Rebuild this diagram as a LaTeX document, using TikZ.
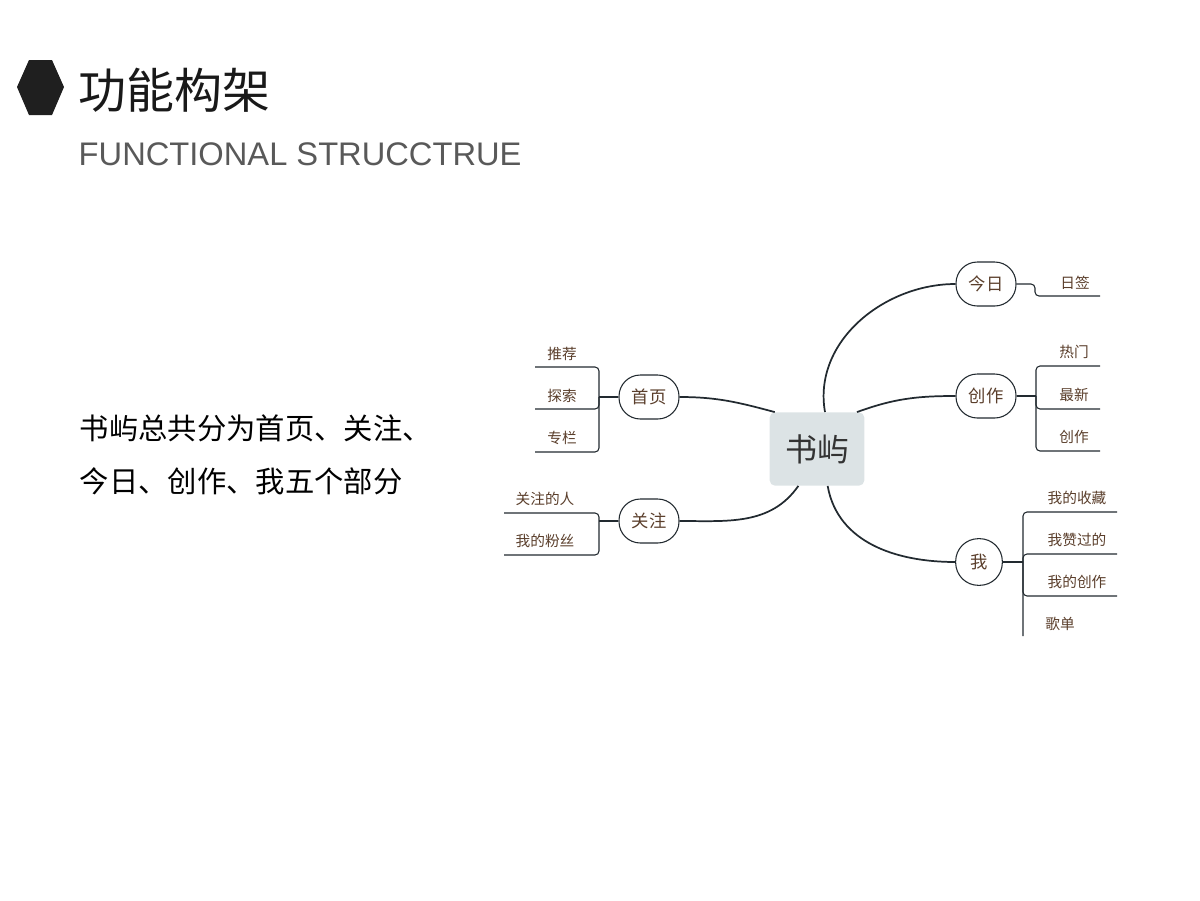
\documentclass[tikz,border=0pt]{standalone}
\usepackage{fontspec}
\setmainfont{Noto Sans CJK SC}
\newfontfamily\enfont{Liberation Sans}
\usepackage{xcolor}
\usepackage{tikz}
\usetikzlibrary{shapes.geometric}
\usetikzlibrary{shapes}
\definecolor{linec}{HTML}{222A30}
\definecolor{leafc}{HTML}{5A3E2B}
\definecolor{hubc}{HTML}{DCE3E5}
\tikzset{
  branch/.style = {draw = linec, thick, rounded corners = 16pt, minimum width = 45pt, minimum height = 33pt, inner sep = 1pt, text = leafc, font = \fontsize{13}{13}\selectfont},
  leaf/.style = {text = leafc, font = \fontsize{11}{11}\selectfont, inner sep = 0pt},
  link/.style = {draw = linec, line width = 1.3pt},
  rail/.style = {draw = linec, line width = 0.8pt, rounded corners = 3pt}
}
\begin{document}
\begin{tikzpicture}[x = 0.75pt, y = -0.75pt]
        \useasboundingbox (0, 0) rectangle (1200, 900);

        % heading
        \fill[black!88] (17, 87) -- (29, 60) -- (52, 60) -- (64, 87) -- (52, 115) -- (29, 115) -- cycle;
        \node[anchor = west, font = \fontsize{36}{36}\selectfont, text = black!90] (title) at (74, 90) {功能构架};
        \node[anchor = west, font = \enfont\fontsize{24.5}{24.5}\selectfont, text = black!65] (sub) at (74, 154) {FUNCTIONAL STRUCCTRUE};

        % description
        \node[anchor = west, font = \fontsize{22}{22}\selectfont] (d1) at (75, 428) {书屿总共分为首页、关注、};
        \node[anchor = west, font = \fontsize{22}{22}\selectfont] (d2) at (75, 481) {今日、创作、我五个部分};

        % map
        \node[fill = hubc, rounded corners = 4pt, minimum width = 71pt, minimum height = 55pt, text = black!80, font = \fontsize{24}{24}\selectfont] (hub) at (817, 449) {书屿};
        \node[branch] (home) at (649, 397) {首页};
        \node[branch] (follow) at (649, 521) {关注};
        \node[branch] (today) at (986, 284) {今日};
        \node[branch] (create) at (986, 396) {创作};
        \node[branch, minimum width = 35pt, minimum height = 35pt, rounded corners = 17pt] (me) at (979, 562) {我};

        \draw[link] ([xshift = 4pt]hub.north west) to[out = 165, in = 0] (home.east);
        \draw[link] ([xshift = -14pt]hub.south) to[out = -125, in = 0] (follow.east);
        \draw[link] ([xshift = 6pt]hub.north) to[out = 100, in = 180] (today.west);
        \draw[link] ([xshift = 30pt]hub.north) to[out = 20, in = 180] (create.west);
        \draw[link] ([xshift = 8pt]hub.south) to[out = -80, in = 180] (me.west);

        % home
        \draw[rail] (home.west) -- (599, 397);
        \draw[rail] (535, 367) -- (599, 367) -- (599, 452) -- (535, 452);
        \draw[rail] (535, 409) -- (599, 409) -- (599, 397);
        \node[leaf] (h1) at (562, 354) {推荐};
        \node[leaf] (h2) at (562, 396) {探索};
        \node[leaf] (h3) at (562, 438) {专栏};

        % follow
        \draw[rail] (follow.west) -- (599, 521);
        \draw[rail] (504, 513) -- (599, 513) -- (599, 555) -- (504, 555);
        \node[leaf] (f1) at (545, 499) {关注的人};
        \node[leaf] (f2) at (545, 541) {我的粉丝};

        % today
        \draw[rail] (today.east) -- (1035, 284) -- (1035, 296) -- (1100, 296);
        \node[leaf] (t1) at (1075, 283) {日签};

        % create
        \draw[rail] (create.east) -- (1036, 396);
        \draw[rail] (1100, 366) -- (1036, 366) -- (1036, 451) -- (1100, 451);
        \draw[rail] (1100, 409) -- (1036, 409) -- (1036, 396);
        \node[leaf] (c1) at (1074, 352) {热门};
        \node[leaf] (c2) at (1074, 395) {最新};
        \node[leaf] (c3) at (1074, 437) {创作};

        % me
        \draw[rail] (me.east) -- (1023, 562);
        \draw[rail] (1117, 512) -- (1023, 512) -- (1023, 636);
        \draw[rail] (1117, 554) -- (1023, 554) -- (1023, 562);
        \draw[rail] (1117, 596) -- (1023, 596) -- (1023, 562);
        \node[leaf] (m1) at (1077, 498) {我的收藏};
        \node[leaf] (m2) at (1077, 540) {我赞过的};
        \node[leaf] (m3) at (1077, 582) {我的创作};
        \node[leaf] (m4) at (1060, 624) {歌单};
\end{tikzpicture}
\end{document}
